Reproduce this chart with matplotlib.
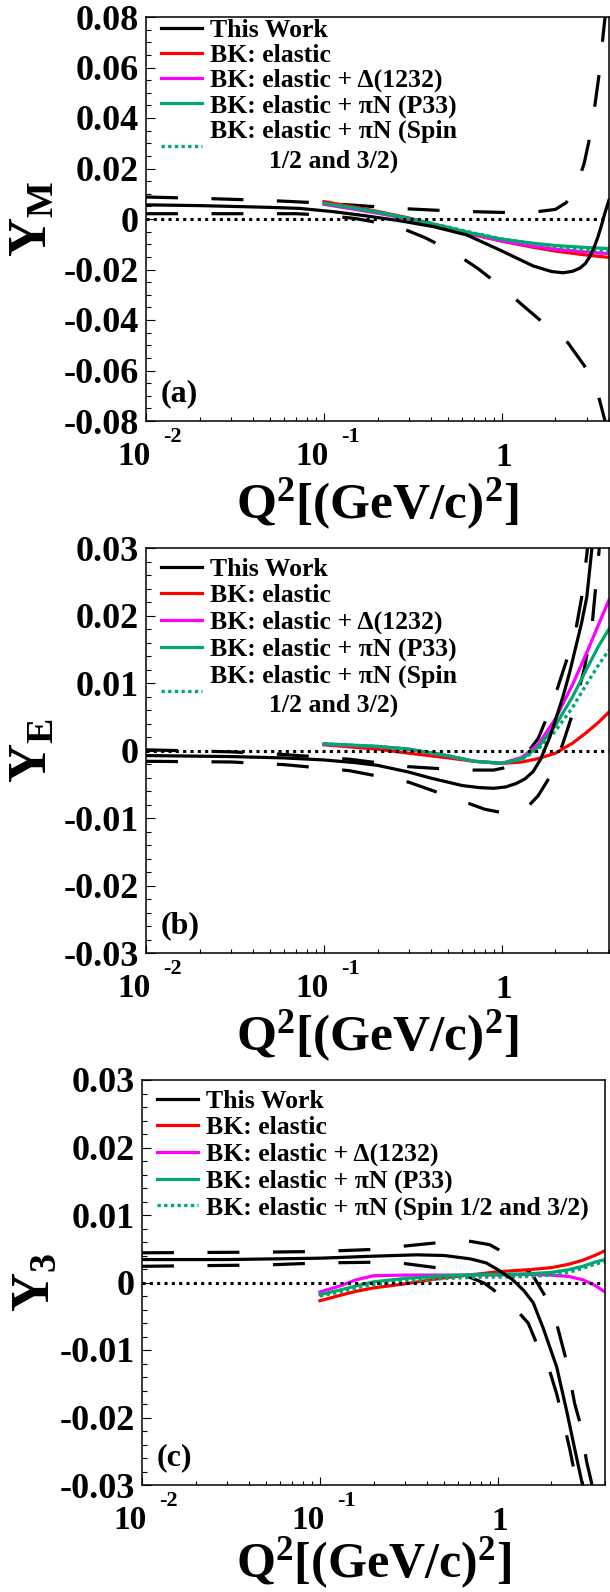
import matplotlib
matplotlib.use('Agg')
import matplotlib.pyplot as plt
from matplotlib.ticker import FixedLocator, MultipleLocator, NullFormatter, FixedFormatter, LogLocator

plt.rcParams['font.family'] = ['Liberation Serif', 'DejaVu Serif']
plt.rcParams['font.weight'] = 'bold'
plt.rcParams['mathtext.fontset'] = 'custom'
plt.rcParams['mathtext.rm'] = 'Liberation Serif:bold'
plt.rcParams['mathtext.it'] = 'Liberation Serif:bold'
plt.rcParams['mathtext.bf'] = 'Liberation Serif:bold'

# ---- panel (a): Y_M ----
q_work_a = [0.01, 0.02, 0.03, 0.05, 0.073, 0.113, 0.174, 0.267, 0.411, 0.634, 0.975, 1.5, 1.9, 2.21, 2.5, 2.74, 2.95, 3.12, 3.3, 3.47, 3.63, 3.79, 4.0]
ym_work = [0.0056, 0.0053, 0.0050, 0.0046, 0.0042, 0.0029, 0.0012, -0.0007, -0.0030, -0.0063, -0.0123, -0.0186, -0.0208, -0.0213, -0.0207, -0.0195, -0.0176, -0.0149, -0.0112, -0.0070, -0.0025, 0.0023, 0.0075]
q_up_a = [0.01, 0.02, 0.05, 0.1, 0.2, 0.3, 0.45, 0.7, 1.0, 1.5, 2.0, 2.3, 2.6, 2.9, 3.2, 3.5, 3.8, 4.0]
ym_up = [0.0087, 0.0082, 0.0073, 0.0063, 0.0048, 0.0040, 0.0034, 0.0029, 0.0026, 0.0027, 0.0038, 0.0065, 0.0120, 0.0220, 0.0360, 0.0560, 0.0800, 0.0950]
q_lo_a = [0.01, 0.03, 0.07, 0.1, 0.15, 0.2, 0.26, 0.37, 0.53, 0.73, 1.0, 1.3, 1.7, 2.35, 2.9, 3.4, 3.8, 4.0]
ym_lo = [0.0021, 0.0021, 0.0021, 0.0015, 0.0002, -0.0014, -0.0030, -0.0074, -0.0130, -0.0195, -0.0270, -0.0340, -0.0410, -0.0490, -0.0580, -0.0670, -0.0800, -0.0870]
q_bk_a = [0.1, 0.15, 0.2, 0.3, 0.5, 0.7, 1.0, 1.5, 2.0, 3.0, 4.0]
ym_red = [0.0069, 0.0047, 0.0030, 0.0004, -0.0035, -0.0063, -0.0088, -0.0112, -0.0127, -0.0143, -0.0152]
ym_mag = [0.0058, 0.0038, 0.0023, 0.0000, -0.0036, -0.0062, -0.0087, -0.0108, -0.0120, -0.0131, -0.0137]
ym_grn = [0.0062, 0.0043, 0.0027, 0.0002, -0.0034, -0.0058, -0.0080, -0.0096, -0.0105, -0.0113, -0.0117]
ym_dot = [0.0062, 0.0043, 0.0027, 0.0003, -0.0032, -0.0056, -0.0079, -0.0097, -0.0110, -0.0122, -0.0128]

# ---- panel (b): Y_E ----
q_work_b = [0.01, 0.03, 0.06, 0.1, 0.15, 0.2, 0.3, 0.4, 0.5, 0.6, 0.75, 0.9, 1.05, 1.2, 1.35, 1.5, 1.65, 1.86, 2.0, 2.2, 2.4, 2.6, 2.8, 3.0, 3.2, 3.35]
ye_work = [-0.00075, -0.0009, -0.0011, -0.0014, -0.0018, -0.0022, -0.0032, -0.0041, -0.0047, -0.0052, -0.0055, -0.0056, -0.0054, -0.0049, -0.0042, -0.0031, -0.0013, 0.0020, 0.0045, 0.0079, 0.0115, 0.0153, 0.0188, 0.0227, 0.0297, 0.0350]
q_up_b = [0.01, 0.03, 0.06, 0.14, 0.3, 0.6, 0.9, 1.2, 1.3, 1.6, 1.9, 2.3, 2.6, 2.8, 3.0, 3.2]
ye_up = [0.0001, -0.0002, -0.0006, -0.0013, -0.0024, -0.0029, -0.0029, -0.0022, -0.0014, 0.0018, 0.0065, 0.0132, 0.0178, 0.0225, 0.0290, 0.0360]
q_lo_b = [0.01, 0.03, 0.06, 0.14, 0.3, 0.6, 0.8, 1.0, 1.2, 1.4, 1.6, 1.9, 2.2, 2.5, 2.9, 3.2, 3.5, 3.7]
ye_lo = [-0.0016, -0.0017, -0.0021, -0.0030, -0.0047, -0.0075, -0.0087, -0.0092, -0.0093, -0.0083, -0.0067, -0.0035, 0.0010, 0.0055, 0.0120, 0.0180, 0.0290, 0.0360]
q_bk_b = [0.1, 0.2, 0.3, 0.5, 0.7, 1.0, 1.3, 1.6, 2.0, 2.5, 3.0, 3.5, 4.0]
ye_red = [0.00085, 0.0002, -0.0004, -0.0011, -0.0016, -0.0019, -0.0017, -0.0012, -0.0004, 0.0011, 0.0027, 0.0042, 0.0057]
ye_mag = [0.0009, 0.0006, 0.0002, -0.0008, -0.0016, -0.0019, -0.0010, 0.0009, 0.0047, 0.0098, 0.0145, 0.0187, 0.0223]
ye_grn = [0.0010, 0.0006, 0.0002, -0.0008, -0.0016, -0.0019, -0.0012, 0.0005, 0.0037, 0.0080, 0.0121, 0.0155, 0.0180]
ye_dot = [0.0010, 0.0006, 0.0002, -0.0008, -0.0016, -0.0019, -0.0013, 0.0002, 0.0029, 0.0064, 0.0099, 0.0127, 0.0149]

# ---- panel (c): Y_3 ----
q_work_c = [0.01, 0.03, 0.1, 0.2, 0.35, 0.5, 0.7, 0.86, 1.0, 1.2, 1.4, 1.58, 1.8, 2.14, 2.43, 2.71, 2.95, 3.05]
y3_work = [0.0034, 0.0034, 0.0036, 0.0039, 0.0041, 0.0040, 0.0035, 0.0029, 0.0019, 0.0005, -0.0012, -0.0030, -0.0068, -0.0125, -0.0189, -0.0248, -0.0293, -0.0310]
q_up_c = [0.01, 0.05, 0.1, 0.2, 0.3, 0.5, 0.7, 0.9, 1.1, 1.3, 1.56, 1.9, 2.15, 2.45, 2.7, 2.95, 3.15, 3.35, 3.45]
y3_up = [0.0044, 0.0045, 0.0046, 0.0049, 0.0054, 0.0060, 0.0061, 0.0056, 0.0043, 0.0028, 0.0012, -0.0026, -0.0063, -0.0120, -0.0179, -0.0216, -0.0265, -0.0295, -0.0315]
q_lo_c = [0.01, 0.05, 0.1, 0.2, 0.3, 0.45, 0.58, 0.84, 1.14, 1.48, 1.68, 1.96, 2.14, 2.38, 2.55, 2.71, 2.8]
y3_lo = [0.0024, 0.0026, 0.0029, 0.0030, 0.0028, 0.0022, 0.0016, -0.0001, -0.0027, -0.0060, -0.0095, -0.0132, -0.0165, -0.0215, -0.0250, -0.0285, -0.0310]
q_bk_c = [0.1, 0.13, 0.16, 0.2, 0.3, 0.5, 0.8, 1.0, 1.5, 2.0, 2.5, 3.0, 3.5, 4.0]
y3_red = [-0.0027, -0.0019, -0.0013, -0.0008, -0.0002, 0.0007, 0.0013, 0.0016, 0.0019, 0.0022, 0.0027, 0.0033, 0.0040, 0.0047]
y3_mag = [-0.0014, -0.0005, 0.0004, 0.0010, 0.0011, 0.0011, 0.0011, 0.0011, 0.0012, 0.0011, 0.0009, 0.0004, -0.0004, -0.0014]
y3_grn = [-0.0018, -0.0011, -0.0005, 0.0001, 0.0006, 0.0010, 0.0012, 0.0012, 0.0013, 0.0015, 0.0019, 0.0024, 0.0030, 0.0034]
y3_dot = [-0.0020, -0.0014, -0.0008, -0.0003, 0.0002, 0.0006, 0.0008, 0.0008, 0.0009, 0.0011, 0.0015, 0.0021, 0.0027, 0.0031]

labels = ['This Work', 'BK: elastic', 'BK: elastic + Δ(1232)', 'BK: elastic + πN (P33)']
GREEN = '#00a870'
PX = 0.72  # points per pixel at dpi 100
DASH = (0, (10, 10.5))
LW = 2.3


def draw_panel(ax, work, up, lo, bk, ylim, ymaj, ymin, ylab, ylab_x, tag, spin_label,
               leg_top, leg_sp, xlab_off, xlab_size):
    qb, red, mag, grn, dot = bk
    ax.plot(up[0], up[1], color='k', lw=LW, linestyle=DASH)
    ax.plot(lo[0], lo[1], color='k', lw=LW, linestyle=DASH)
    h_red, = ax.plot(qb, red, color='red', lw=LW)
    h_mag, = ax.plot(qb, mag, color='magenta', lw=LW)
    h_grn, = ax.plot(qb, grn, color=GREEN, lw=LW)
    h_dot, = ax.plot(qb, dot, color=GREEN, lw=2.4, linestyle=(0, (1, 1)))
    h_work, = ax.plot(work[0], work[1], color='k', lw=LW)
    ax.axhline(0, color='k', lw=2.2, linestyle=(0, (1, 1.4)), zorder=5)

    ax.set_xscale('log')
    ax.set_xlim(0.01, 4.0)
    ax.set_ylim(*ylim)
    ax.xaxis.set_major_locator(FixedLocator([0.01, 0.1, 1.0]))
    ax.xaxis.set_minor_locator(LogLocator(base=10, subs=range(2, 10)))
    ax.xaxis.set_major_formatter(NullFormatter())
    ax.xaxis.set_minor_formatter(NullFormatter())
    ax.yaxis.set_major_locator(MultipleLocator(ymaj))
    ax.yaxis.set_minor_locator(MultipleLocator(ymin))
    yt = [round(v, 3) for v in ax.get_yticks()]
    ax.yaxis.set_major_locator(FixedLocator(yt))
    ax.yaxis.set_major_formatter(FixedFormatter([f'{v:g}' for v in yt]))
    ax.tick_params(axis='y', which='both', direction='in', left=True, right=False, width=0.8, labelsize=26, pad=5)
    ax.tick_params(axis='y', which='major', length=8.5 * PX)
    ax.tick_params(axis='y', which='minor', length=5 * PX)
    ax.tick_params(axis='x', which='both', direction='in', bottom=True, top=False, width=0.8)
    ax.tick_params(axis='x', which='major', length=8.5 * PX)
    ax.tick_params(axis='x', which='minor', length=4.5 * PX)
    for s in ax.spines.values():
        s.set_linewidth(1.1)

    # ROOT style x tick labels
    for q, ex in [(0.01, '-2'), (0.1, '-1')]:
        ax.annotate('10', xy=(q, 0), xycoords=('data', 'axes fraction'), xytext=(5 * PX, -44 * PX),
                    textcoords='offset points', ha='right', va='baseline', fontsize=24)
        ax.annotate(ex, xy=(q, 0), xycoords=('data', 'axes fraction'), xytext=(17 * PX, -21 * PX),
                    textcoords='offset points', ha='left', va='baseline', fontsize=16)
    ax.annotate('1', xy=(1.0, 0), xycoords=('data', 'axes fraction'), xytext=(2 * PX, -45 * PX),
                textcoords='offset points', ha='center', va='baseline', fontsize=24)
    ax.annotate(r'$\mathrm{Q^{2}[(GeV/c)^{2}]}$', xy=(0.5, 0), xycoords='axes fraction',
                xytext=(0, -xlab_off * PX), textcoords='offset points', ha='center', va='baseline',
                fontsize=xlab_size)
    ax.text(ylab_x, 0.5, ylab, transform=ax.transAxes, rotation=90, ha='center', va='center', fontsize=39)
    ax.text(15 / 463, 27.5 / 405, tag, transform=ax.transAxes, ha='left', va='center', fontsize=23)

    leg = ax.legend([h_work, h_red, h_mag, h_grn, h_dot], labels + [spin_label],
                    loc='upper left', bbox_to_anchor=(15 / 463, leg_top), frameon=False, fontsize=18.5,
                    handlelength=1.6, handletextpad=0.32, borderpad=0, borderaxespad=0, labelspacing=leg_sp)
    for t in leg.get_texts():
        t.set_multialignment('center')
        t.set_linespacing(1.35)


fig = plt.figure(figsize=(6.1, 15.92), dpi=100)
ax_a = fig.add_axes([146 / 610, 1 - 421 / 1592, 463 / 610, 404 / 1592])
ax_b = fig.add_axes([146 / 610, 1 - 953 / 1592, 463 / 610, 405 / 1592])
ax_c = fig.add_axes([142 / 610, 1 - 1485 / 1592, 463 / 610, 405 / 1592])

spin2 = 'BK: elastic + πN (Spin\n1/2 and 3/2)'
draw_panel(ax_a, (q_work_a, ym_work), (q_up_a, ym_up), (q_lo_a, ym_lo),
           (q_bk_a, ym_red, ym_mag, ym_grn, ym_dot), (-0.08, 0.08), 0.02, 0.005,
           r'$\mathrm{Y_{M}}$', -0.242, '(a)', spin2, 0.995, 0.075, 97, 37)
draw_panel(ax_b, (q_work_b, ye_work), (q_up_b, ye_up), (q_lo_b, ye_lo),
           (q_bk_b, ye_red, ye_mag, ye_grn, ye_dot), (-0.03, 0.03), 0.01, 0.002,
           r'$\mathrm{Y_{E}}$', -0.242, '(b)', spin2, 0.975, 0.13, 97, 37)
draw_panel(ax_c, (q_work_c, y3_work), (q_up_c, y3_up), (q_lo_c, y3_lo),
           (q_bk_c, y3_red, y3_mag, y3_grn, y3_dot), (-0.03, 0.03), 0.01, 0.002,
           r'$\mathrm{Y_{3}}$', -0.231, '(c)', 'BK: elastic + πN (Spin 1/2 and 3/2)', 0.975, 0.13, 92, 36)

fig.savefig('out.png', dpi=100)
